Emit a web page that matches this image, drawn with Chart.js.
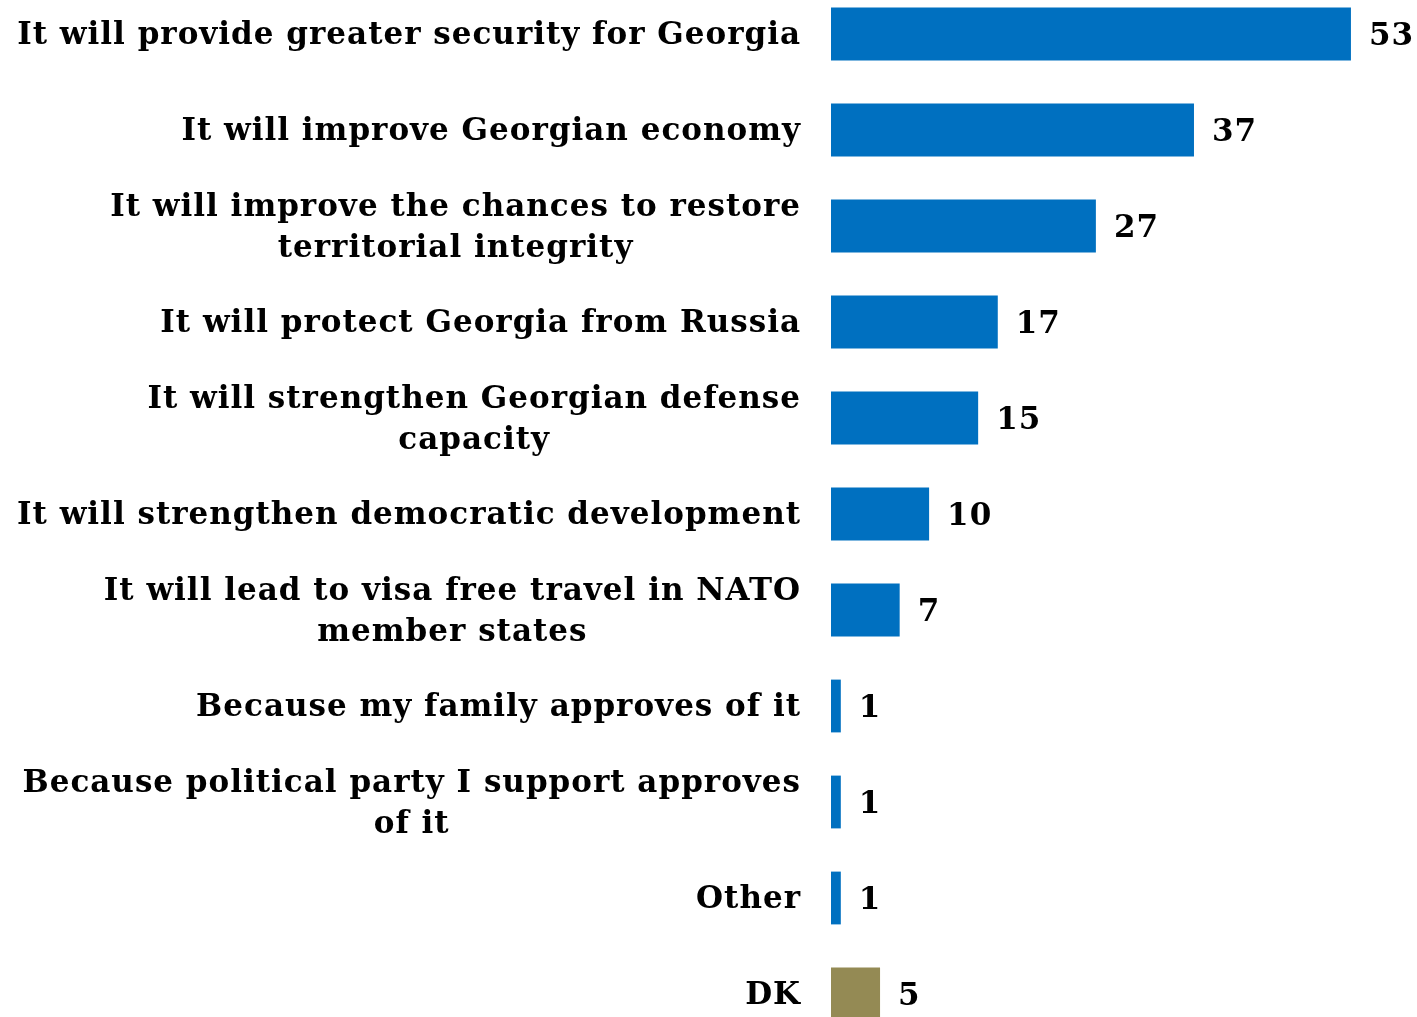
<!DOCTYPE html>
<html>
<head>
<meta charset="utf-8">
<script src="https://cdn.jsdelivr.net/npm/chart.js@4/dist/chart.umd.min.js"></script>
<style>
  html, body { margin: 0; padding: 0; background: #fff; overflow: hidden; }
  #wrap { position: absolute; left: 0; top: -14px; width: 1417px; height: 1056px; }
</style>
</head>
<body>
<div id="wrap"><canvas id="chart"></canvas></div>
<script>
const categories = [
  ['It will provide greater security for Georgia'],
  ['It will improve Georgian economy'],
  ['It will improve the chances to restore', 'territorial integrity'],
  ['It will protect Georgia from Russia'],
  ['It will strengthen Georgian defense', 'capacity'],
  ['It will strengthen democratic development'],
  ['It will lead to visa free travel in NATO', 'member states'],
  ['Because my family approves of it'],
  ['Because political party I support approves', 'of it'],
  ['Other'],
  ['DK'],
];
const values = [53, 37, 27, 17, 15, 10, 7, 1, 1, 1, 5];
const barColors = ['#0070C0', '#0070C0', '#0070C0', '#0070C0', '#0070C0', '#0070C0',
  '#0070C0', '#0070C0', '#0070C0', '#0070C0', '#948A54'];

const FONT = 'bold 31px "DejaVu Serif"';

// draws the category labels (block right-aligned, lines centred) and value labels
const labelPlugin = {
  id: 'labels',
  afterDraw(chart) {
    const ctx = chart.ctx;
    const yScale = chart.scales.y;
    const meta = chart.getDatasetMeta(0);
    ctx.save();
    ctx.font = FONT;
    ctx.letterSpacing = '1px';
    ctx.fillStyle = '#000';
    ctx.textBaseline = 'middle';
    ctx.textAlign = 'center';
    const right = yScale.right - 30;
    const lineH = 41;
    categories.forEach((lines, i) => {
      const y = yScale.getPixelForValue(i) + 2;
      const maxW = Math.max(...lines.map(l => ctx.measureText(l).width));
      const cx = right - maxW / 2;
      const y0 = y - (lines.length - 1) * lineH / 2;
      lines.forEach((l, j) => ctx.fillText(l, cx, y0 + j * lineH));
    });
    ctx.textAlign = 'left';
    meta.data.forEach((bar, i) => {
      ctx.fillText(String(values[i]), bar.x + 18, bar.y + 3);
    });
    ctx.restore();
  }
};

new Chart(document.getElementById('chart'), {
  type: 'bar',
  data: {
    labels: categories,
    datasets: [{
      data: values,
      backgroundColor: barColors,
      borderWidth: 0,
      barPercentage: 0.55,
      categoryPercentage: 1,
    }],
  },
  options: {
    indexAxis: 'y',
    responsive: true,
    maintainAspectRatio: false,
    animation: false,
    layout: { padding: { left: 0, right: 17, top: 0, bottom: 0 } },
    plugins: { legend: { display: false }, tooltip: { enabled: false } },
    scales: {
      x: { display: false, min: 0, max: 58 },
      y: {
        grid: { display: false },
        border: { display: false },
        ticks: { display: false },
        afterFit(scale) { scale.width = 831; },
      },
    },
  },
  plugins: [labelPlugin],
});
</script>
</body>
</html>
